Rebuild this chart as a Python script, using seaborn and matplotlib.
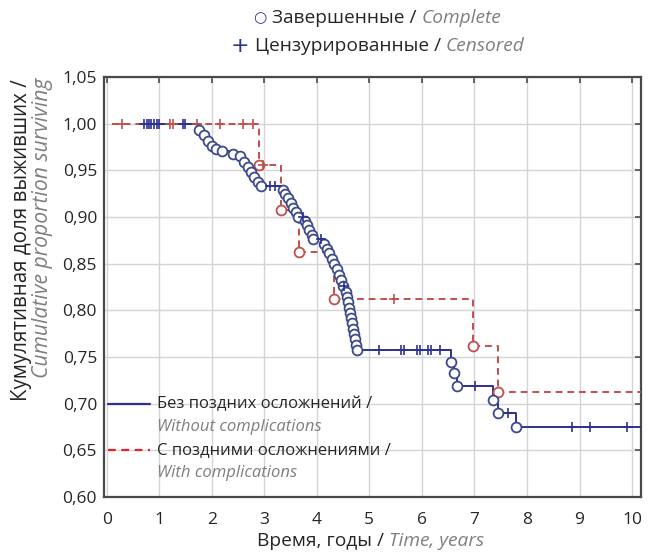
import numpy as np
import pandas as pd
import matplotlib
matplotlib.use("Agg")
import matplotlib.pyplot as plt
import matplotlib.ticker as ticker
import seaborn as sns

BLUE = "#2e3192"
BLUE_MK = "#3d4a8a"
RED = "#c0504d"
RED_LEG = "#e8202a"
GRAY_TXT = "#7f7f7f"

# group without late complications: event times / survival after each event
blue_start = 0.70
blue_t = [1.75, 1.86, 1.93, 2.00, 2.09, 2.20, 2.41, 2.53, 2.62, 2.69, 2.75, 2.81, 2.88, 2.94,
          3.36, 3.40, 3.45, 3.50, 3.55, 3.60, 3.65, 3.78, 3.82, 3.86, 3.90, 3.93,
          4.14, 4.19, 4.24, 4.29, 4.33, 4.38, 4.42, 4.46, 4.50,
          4.55, 4.57, 4.59, 4.61, 4.63, 4.65, 4.67, 4.69, 4.71, 4.73, 4.75, 4.77,
          6.55, 6.62, 6.67, 7.35, 7.44, 7.80]
blue_s = [0.993, 0.988, 0.981, 0.976, 0.973, 0.971, 0.968, 0.965, 0.959, 0.954, 0.948, 0.943, 0.938, 0.933,
          0.929, 0.925, 0.920, 0.915, 0.910, 0.905, 0.900, 0.896, 0.891, 0.886, 0.881, 0.876,
          0.871, 0.866, 0.861, 0.855, 0.850, 0.844, 0.838, 0.832, 0.826,
          0.820, 0.814, 0.809, 0.803, 0.797, 0.792, 0.786, 0.780, 0.775, 0.769, 0.763, 0.758,
          0.745, 0.733, 0.719, 0.704, 0.690, 0.675]
blue_cens = [0.72, 0.76, 0.80, 0.85, 0.90, 0.95, 1.00, 1.45, 1.50, 3.10, 3.20, 3.74, 4.08, 4.52,
             5.18, 5.60, 5.66, 5.90, 5.96, 6.12, 6.18, 6.35, 7.02, 7.63, 8.85, 9.20, 9.90]

# group with late complications
red_start = 0.10
red_t = [2.90, 3.32, 3.66, 4.33, 6.98, 7.44]
red_s = [0.956, 0.907, 0.862, 0.812, 0.762, 0.713]
red_cens = [0.30, 1.20, 1.27, 1.72, 2.15, 2.60, 2.78, 2.98, 5.46]

t_end = 10.2


def curve(start, t, s):
    return pd.DataFrame({"t": [start] + t + [t_end], "s": [1.0] + s + [s[-1]]})


def cens_level(t, s, c):
    idx = np.searchsorted(t, c, side="right") - 1
    lev = np.where(idx < 0, 1.0, np.array(s)[np.clip(idx, 0, None)])
    return pd.DataFrame({"t": c, "s": lev})


sns.set_style("white")
plt.rcParams["font.family"] = ["Open Sans", "DejaVu Sans"]

fig = plt.figure(figsize=(6.48, 5.55), dpi=100)
ax = fig.add_axes([104 / 648, 1 - 497 / 555, 537 / 648, 420 / 555])

sns.lineplot(data=curve(red_start, red_t, red_s), x="t", y="s", drawstyle="steps-post",
             estimator=None, sort=False, color=RED, linestyle=(0, (3.5, 2.5)), lw=1.4, ax=ax, zorder=3)
sns.lineplot(data=curve(blue_start, blue_t, blue_s), x="t", y="s", drawstyle="steps-post",
             estimator=None, sort=False, color=BLUE, lw=1.4, ax=ax, zorder=4)

sns.scatterplot(x=red_t, y=red_s, marker="o", s=50, facecolor="white", edgecolor=RED,
                linewidth=1.3, ax=ax, zorder=5)
rc = cens_level(red_t, red_s, red_cens)
sns.scatterplot(data=rc, x="t", y="s", marker="+", s=60, color=RED, linewidth=1.2, ax=ax, zorder=5)

sns.scatterplot(x=blue_t, y=blue_s, marker="o", s=50, facecolor="white", edgecolor=BLUE_MK,
                linewidth=1.3, ax=ax, zorder=6)
bc = cens_level(blue_t, blue_s, blue_cens)
sns.scatterplot(data=bc, x="t", y="s", marker="+", s=60, color=BLUE, linewidth=1.2, ax=ax, zorder=6)

ax.set_xlim(-0.05, 10.17)
ax.set_ylim(0.60, 1.05)
ax.set_xticks(range(0, 11))
ax.set_yticks(np.arange(0.60, 1.051, 0.05))
ax.yaxis.set_major_formatter(ticker.FuncFormatter(lambda v, p: f"{v:.2f}".replace(".", ",")))
ax.grid(True, color="#d4d4d4", lw=1.0)
ax.set_axisbelow(True)
for sp in ax.spines.values():
    sp.set_color("#4a4a4a")
    sp.set_linewidth(1.6)
ax.tick_params(direction="in", length=4, width=1.2, color="#4a4a4a", top=True, right=True,
               labelsize=12.5)
ax.tick_params(axis="x", pad=11)
ax.tick_params(axis="y", pad=5)
ax.set_xlabel("")
ax.set_ylabel("")

# legend drawn inside the axes
ax.plot([0.007, 0.086], [0.221, 0.221], transform=ax.transAxes, color=BLUE, lw=1.6)
ax.plot([0.007, 0.086], [0.112, 0.112], transform=ax.transAxes, color=RED_LEG, lw=1.6,
        linestyle=(0, (3.5, 2.5)))
ax.text(0.099, 0.221, "Без поздних осложнений /", transform=ax.transAxes, fontsize=12, va="center")
ax.text(0.099, 0.167, "Without complications", transform=ax.transAxes, fontsize=12, va="center",
        color=GRAY_TXT, style="italic")
ax.text(0.099, 0.112, "С поздними осложнениями /", transform=ax.transAxes, fontsize=12, va="center")
ax.text(0.099, 0.057, "With complications", transform=ax.transAxes, fontsize=12, va="center",
        color=GRAY_TXT, style="italic")


def centered_line(cx, y, parts, size):
    # parts: list of (text, extra kwargs); chained left to right, then centred on cx (pixels)
    kw0 = {"fontsize": size, **parts[0][1]}
    first = fig.text(0, y, parts[0][0], va="center", **kw0)
    pieces = [first]
    prev = first
    for txt, kw in parts[1:]:
        kw = {"fontsize": size, **kw}
        prev = ax.annotate(txt, xy=(1, 0.5), xycoords=prev, va="center", ha="left", **kw)
        pieces.append(prev)
    fig.canvas.draw()
    r = fig.canvas.get_renderer()
    w = sum(p.get_window_extent(r).width for p in pieces)
    first.set_x((cx - w / 2) / fig.bbox.width)


gray = {"color": GRAY_TXT, "style": "italic"}
centered_line(378, 1 - 18 / 555, [("○ ", {"color": BLUE, "family": ["DejaVu Sans"], "fontsize": 11}),
                                  ("Завершенные / ", {}), ("Complete", gray)], 13.8)
centered_line(378, 1 - 46 / 555, [("+\u2009", {"color": BLUE, "fontsize": 16, "family": ["DejaVu Sans"]}),
                                  ("Цензурированные / ", {}), ("Censored", gray)], 13.8)
centered_line(371, 1 - 541 / 555, [("Время, годы / ", {}), ("Time, years", gray)], 13.8)

fig.text(22 / 648, 1 - 240 / 555, "Кумулятивная доля выживших /", rotation=90, fontsize=14.8,
         va="center", ha="center")
fig.text(43 / 648, 1 - 228 / 555, "Cumulative proportion surviving", rotation=90, fontsize=15.2,
         va="center", ha="center", color=GRAY_TXT, style="italic")

fig.savefig("out.png", dpi=100)
